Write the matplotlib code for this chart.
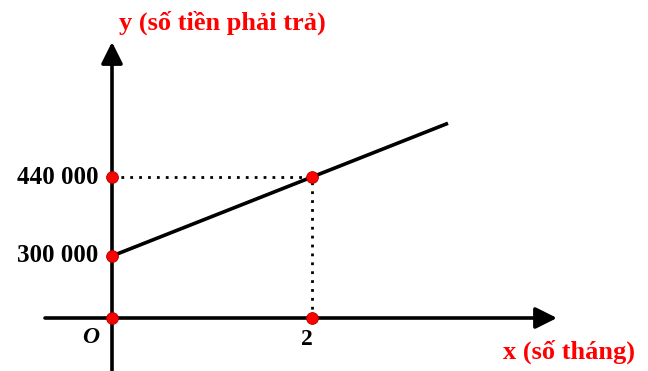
import numpy as np
import matplotlib
matplotlib.use("Agg")
import matplotlib.pyplot as plt
from matplotlib.transforms import blended_transform_factory

# Monthly cost: fixed fee plus a monthly charge
fee_months = [0, 2]
fee_costs = [300000, 440000]
line_months = [0, 3.36]
line_costs = [300000, 535200]
ytick_values = [300000, 440000]
ytick_labels = ["300 000", "440 000"]
xtick_value = 2
xtick_label = "2"

# The vertical axis is not to scale: the stretch below 300 000 is compressed.
LOW, LOW_H = 300000, 62.0
UP_SLOPE = 79.0 / 140000.0
LOW_SLOPE = LOW_H / LOW


def fwd(v):
    v = np.asarray(v, dtype=float)
    return np.where(v <= LOW, v * LOW_SLOPE, LOW_H + (v - LOW) * UP_SLOPE)


def inv(p):
    p = np.asarray(p, dtype=float)
    return np.where(p <= LOW_H, p / LOW_SLOPE, LOW + (p - LOW_H) / UP_SLOPE)


W, H = 648, 371
fig = plt.figure(figsize=(W / 100, H / 100), dpi=100)
ax = fig.add_axes([0, 0, 1, 1])
ax.set_yscale("function", functions=(fwd, inv))

x0_px, px_per_month = 112.0, 100.0
xaxis_px = 318.0
ax.set_xlim(-x0_px / px_per_month, (W - x0_px) / px_per_month)
ax.set_ylim(float(inv(-(H - xaxis_px))), float(inv(xaxis_px)))
ax.axis("off")

serif = "Liberation Serif"
red = "#ff0000"

# Axes with arrow heads
tx = blended_transform_factory(ax.transAxes, ax.transData)
ty = blended_transform_factory(ax.transData, ax.transAxes)
arrow = dict(arrowstyle="-|>,head_length=13,head_width=6.5", mutation_scale=1,
             lw=2.6, color="black", shrinkA=0, shrinkB=0)
ax.annotate("", xy=(557 / W, 0), xytext=(45 / W, 0),
            xycoords=tx, textcoords=tx, arrowprops=arrow, zorder=2)
ax.annotate("", xy=(0, 1 - 42 / H), xytext=(0, -0.01),
            xycoords=ty, textcoords=ty, arrowprops=arrow, zorder=2)

# Guide lines to the point at x = 2
ax.plot([0, fee_months[1]], [fee_costs[1], fee_costs[1]], color="black",
        lw=2.0, linestyle=(0, (1, 2.2)), dash_capstyle="butt", zorder=3)
ax.plot([fee_months[1], fee_months[1]], [0, fee_costs[1]], color="black",
        lw=2.0, linestyle=(0, (1, 2.2)), dash_capstyle="butt", zorder=3)

# Cost line
ax.plot(line_months, line_costs, color="black", lw=2.6,
        solid_capstyle="butt", zorder=4)

# Marked points
pts_x = [0, 0, 0, xtick_value, xtick_value]
pts_y = [0, ytick_values[0], ytick_values[1], fee_costs[1], 0]
ax.plot(pts_x, pts_y, "o", ms=8.5, mfc=red, mec="#aa0000", mew=0.6,
        zorder=5, clip_on=False)

# Tick labels
for v, lab in zip(ytick_values, ytick_labels):
    ax.text(-0.14, v, lab, ha="right", va="center", fontsize=18,
            fontweight="bold", family=serif, color="black")
ax.text(xtick_value - 0.05, -105000, xtick_label, ha="center", va="center",
        fontsize=17, fontweight="bold", family=serif, color="black")
ax.text(-0.21, -95000, "O", ha="center", va="center", fontsize=17,
        fontweight="bold", fontstyle="italic", family=serif, color="black")

# Axis titles
ax.text(119 / W, 1 - 23 / H, "y (số tiền phải trả)", transform=ax.transAxes,
        ha="left", va="center", fontsize=19, fontweight="bold",
        family=serif, color=red)
ax.text(503 / W, 1 - 352 / H, "x (số tháng)", transform=ax.transAxes,
        ha="left", va="center", fontsize=19, fontweight="bold",
        family=serif, color=red)

fig.savefig("out.png", dpi=100, facecolor="white")
